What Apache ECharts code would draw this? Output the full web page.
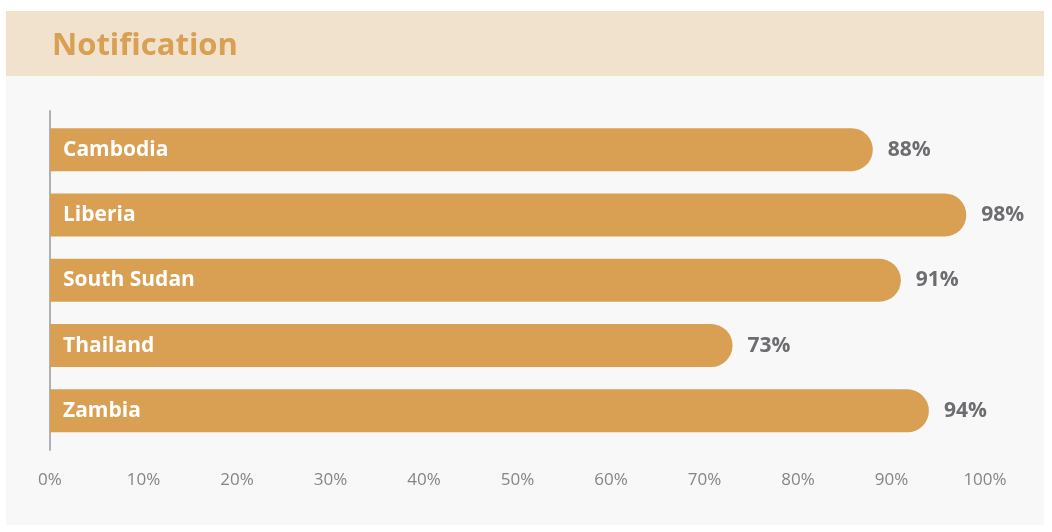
<!DOCTYPE html>
<html>
<head>
<meta charset="utf-8">
<script src="https://cdn.jsdelivr.net/npm/echarts@6/dist/echarts.min.js"></script>
<style>
  html, body { margin: 0; padding: 0; background: #ffffff; }
  #wrap { position: relative; width: 1052px; height: 532px; }
  #head { position: absolute; left: 6px; top: 11px; width: 1038px; height: 65px; background: #f1e2cd; }
  #body { position: absolute; left: 6px; top: 76px; width: 1038px; height: 449px; background: #f8f8f8; }
  #chart { position: absolute; left: 0; top: 0; width: 1052px; height: 532px; }
</style>
</head>
<body>
<div id="wrap">
  <div id="head"></div>
  <div id="body"></div>
  <div id="chart"></div>
</div>
<script>
var countries = ['Cambodia', 'Liberia', 'South Sudan', 'Thailand', 'Zambia'];
var notification = [88, 98, 91, 73, 94];
var tickValues = [0, 10, 20, 30, 40, 50, 60, 70, 80, 90, 100];

var font = '"Open Sans", "Noto Sans", sans-serif';
var chart = echarts.init(document.getElementById('chart'), null, { renderer: 'canvas' });

var option = {
    backgroundColor: 'transparent',
    animation: false,
    title: {
        text: 'Notification',
        left: 47,
        top: 26,
        textStyle: { color: '#d99f52', fontFamily: font, fontWeight: 700, fontSize: 31 }
    },
    grid: [
        { left: 50, right: 67, top: 117, bottom: 88.5 },
        { left: 50, right: 67, top: 111, bottom: 82 }
    ],
    xAxis: [
        {
            gridIndex: 0, type: 'value', min: 0, max: 100, interval: 10,
            axisLine: { show: false }, axisTick: { show: false },
            axisLabel: { show: false }, splitLine: { show: false }
        },
        {
            gridIndex: 1, type: 'value', min: tickValues[0], max: tickValues[tickValues.length - 1], interval: 10,
            axisLine: { show: false }, axisTick: { show: false }, splitLine: { show: false },
            axisLabel: {
                margin: 22, color: '#858585', fontFamily: font, fontSize: 17,
                formatter: '{value}%'
            }
        }
    ],
    yAxis: [
        {
            gridIndex: 0, type: 'category', inverse: true, data: countries,
            z: 10,
            axisLine: { show: false }, axisTick: { show: false },
            axisLabel: {
                inside: true, margin: 13, color: '#ffffff',
                fontFamily: font, fontWeight: 700, fontSize: 21,
                padding: [4, 0, 0, 0]
            }
        },
        {
            gridIndex: 1, type: 'category', inverse: true, data: countries,
            axisLine: { show: true, lineStyle: { color: '#aeb2b6', width: 2 } },
            axisTick: { show: false }, axisLabel: { show: false }
        }
    ],
    series: [
        {
            type: 'bar',
            xAxisIndex: 0, yAxisIndex: 0,
            data: notification,
            barWidth: 43,
            itemStyle: { color: '#d99f52', borderRadius: [0, 22, 22, 0] },
            label: {
                show: true, position: 'right', distance: 15,
                formatter: '{c}%', color: '#6c6d70',
                fontFamily: font, fontWeight: 700, fontSize: 21
            }
        }
    ]
};

chart.setOption(option);
</script>
</body>
</html>
